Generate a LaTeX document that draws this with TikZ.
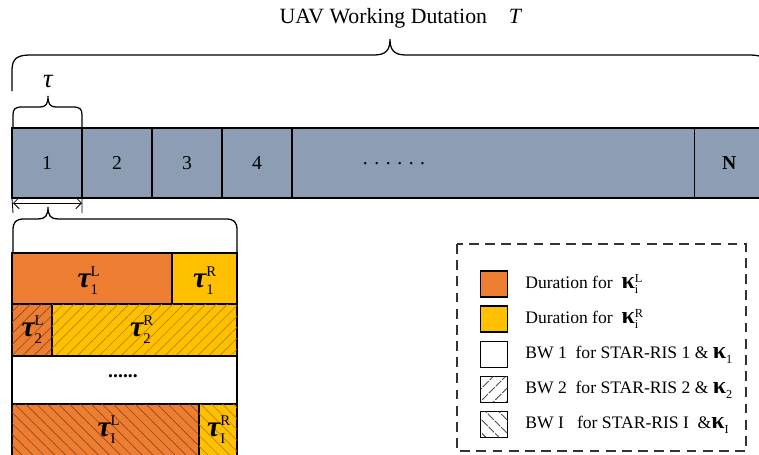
\documentclass[tikz,border=0pt]{standalone}
\usepackage{amsmath}
\usepackage{bm}
\usepackage{fontspec}
\setmainfont{Liberation Serif}
\setmathrm{Liberation Serif}
\usepackage{tikz}
\usetikzlibrary{arrows.meta, patterns.meta, positioning}
\definecolor{slotgray}{RGB}{141,157,180}
\definecolor{durorange}{RGB}{237,125,49}
\definecolor{duryellow}{RGB}{255,192,0}

\newcommand{\taulab}[2]{{\bfseries\itshape τ}$^{\scriptscriptstyle\mathrm{#2}}_{\scriptscriptstyle\mathrm{#1}}$}
\newcommand{\kaplab}[2]{{\bfseries\fontsize{17}{17}\selectfont κ}$^{\mathrm{#1}}_{\mathrm{#2}}$}

\tikzset{
  slot/.style={draw=black, line width=0.9pt, fill=slotgray, minimum width=1.75cm,
    minimum height=1.75cm, inner sep=0pt, outer sep=0pt, font=\fontsize{14}{16}\selectfont},
  seg/.style={draw=black, line width=0.9pt},
  brace/.style={draw=black, line width=0.9pt},
  taufont/.style={font=\fontsize{21}{23}\selectfont},
  hatchne/.style n args={3}{postaction={pattern={Lines[angle=45,distance=#2,line width=#3]}, pattern color=#1}},
  hatchnw/.style n args={3}{postaction={pattern={Lines[angle=-45,distance=#2,line width=#3]}, pattern color=#1}},
  legbox/.style={draw=black, line width=0.8pt, minimum width=0.675cm, minimum height=0.65cm, inner sep=0pt},
  legtext/.style={inner sep=0pt, font=\fontsize{12.5}{15}\selectfont}
}

\begin{document}
\begin{tikzpicture}[x=0.025cm, y=-0.025cm]
  \clip (0,0) rectangle (759,455);

  % title and outer brace
  \node[font=\fontsize{15.5}{18}\selectfont] (title) at (401,18) {UAV Working Dutation\quad\textit{T}};
  \draw[brace] (12,91) -- (12,70) .. controls (12,59) and (17,55) .. (30,55) -- (374,55)
    .. controls (386,55) and (390,50) .. (390,39) .. controls (390,50) and (394,55) .. (406,55)
    -- (750,55) .. controls (763,55) and (768,59) .. (768,70) -- (768,91);

  % slot brace
  \node[font=\fontsize{19}{21}\selectfont\itshape] (tau) at (48,81) {τ};
  \draw[brace] (13,128) -- (13,115) .. controls (13,109) and (15,107) .. (22,107) -- (40,107)
    .. controls (46,107) and (48,104) .. (48,96) .. controls (48,104) and (50,107) .. (56,107)
    -- (73,107) .. controls (80,107) and (82,109) .. (82,115) -- (82,128);

  % time slots
  \node[slot] (s1) at (47,163) {1};
  \foreach \i [count=\j] in {2,3,4}
    \node[slot, right=0pt of s\j] (s\i) {\i};
  \node[slot, minimum width=10.05cm, right=0pt of s4] (sdots) {};
  \node[slot, right=0pt of sdots, font=\fontsize{14}{16}\selectfont\bfseries] (sN) {N};
  \node[font=\fontsize{14}{16}\selectfont] (dotstext) at (394,164) {. . . . . .};

  % zoom on slot 1
  \coordinate (aL) at (13,203);
  \coordinate (aR) at (82,203);
  \draw[line width=0.6pt] (s1.south west) -- (13,213);
  \draw[line width=0.6pt] (s1.south east) -- (82,213);
  \draw[{Straight Barb[length=4pt]}-{Straight Barb[length=4pt]}, line width=0.6pt] (aL) -- (aR);
  \draw[brace] (13,252) -- (13,230) .. controls (13,222) and (16,219) .. (24,219) -- (38,219)
    .. controls (45,219) and (48,216) .. (48,207) .. controls (48,216) and (51,219) .. (58,219)
    -- (226,219) .. controls (234,219) and (237,222) .. (237,230) -- (237,252);

  % sub-slot rows
  \draw[seg, fill=durorange] (12,253) rectangle (172,304);
  \draw[seg, fill=duryellow] (172,253) rectangle (237,304);
  \draw[seg, fill=durorange, hatchne={durorange!60!black}{5.5pt}{0.45pt}] (12,304) rectangle (52,356);
  \draw[seg, fill=duryellow, hatchne={duryellow!70!black}{5.5pt}{0.45pt}] (52,304) rectangle (237,356);
  \draw[seg, fill=white] (12,356) rectangle (237,404);
  \draw[seg, fill=durorange, hatchnw={durorange!60!black}{5.5pt}{0.45pt}] (12,404) rectangle (199,458);
  \draw[seg, fill=duryellow, hatchnw={duryellow!70!black}{5.5pt}{0.45pt}] (199,404) rectangle (237,458);

  \node[taufont] (t1L) at (89,281) {\taulab{1}{L}};
  \node[taufont] (t1R) at (205,281) {\taulab{1}{R}};
  \node[taufont] (t2L) at (33,330) {\taulab{2}{L}};
  \node[taufont] (t2R) at (142,330) {\taulab{2}{R}};
  \node[font=\fontsize{14}{16}\selectfont\bfseries] (rdots) at (123,376) {......};
  \node[taufont] (tIL) at (109,430) {\taulab{I}{L}};
  \node[taufont] (tIR) at (219,430) {\taulab{I}{R}};

  % legend
  \draw[line width=0.9pt, black!80, dash pattern=on 7pt off 4.5pt] (457,244) rectangle (746,451);
  \node[legbox, fill=durorange] (k1) at (494,284) {};
  \node[legbox, fill=duryellow] (k2) at (494,319) {};
  \node[legbox, fill=white] (k3) at (494,354.5) {};
  \node[legbox, fill=white, hatchne={black}{6.5pt}{0.8pt}] (k4) at (494,389.5) {};
  \node[legbox, fill=white, hatchnw={black}{6.5pt}{0.8pt}] (k5) at (494,424.5) {};

  \node[legtext, right=0.425cm of k1] (l1) {Duration for\ \ \kaplab{L}{i}};
  \node[legtext, right=0.425cm of k2] (l2) {Duration for\ \ \kaplab{R}{i}};
  \node[legtext, right=0.425cm of k3] (l3) {BW 1\ \ for STAR-RIS 1 \& \kaplab{}{1}};
  \node[legtext, right=0.425cm of k4] (l4) {BW 2\ \ for STAR-RIS 2 \& \kaplab{}{2}};
  \node[legtext, right=0.425cm of k5] (l5) {BW I\ \ \ for STAR-RIS I\ \ \&\kaplab{}{I}};
\end{tikzpicture}
\end{document}
